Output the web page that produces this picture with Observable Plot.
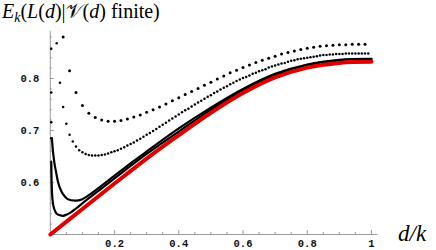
<!DOCTYPE html>
<html><head><meta charset="utf-8">
<script src="https://cdn.jsdelivr.net/npm/d3@7"></script>
<script src="https://cdn.jsdelivr.net/npm/@observablehq/plot@0.6"></script>
<style>html,body{margin:0;padding:0;background:#fff} svg{display:block}</style>
</head><body><div id="chart"></div>
<script>
// ---- data ----
// k = 50 series (sparse dots), d/k = 2/50 ... 49/50
const sparseValues = [0.880,0.815,0.773,0.748,0.733,0.725,0.720,0.718,0.718,0.719,0.722,0.726,0.730,0.735,0.740,0.745,0.751,0.757,0.763,0.769,0.775,0.781,0.787,0.793,0.799,0.805,0.811,0.816,0.821,0.826,0.831,0.835,0.839,0.843,0.847,0.850,0.853,0.856,0.858,0.860,0.862,0.863,0.864,0.865,0.865,0.866,0.866,0.866];
// k = 100 series (dense dots), d/k = 2/100 ... 99/100
const middleValues = [0.868,0.792,0.745,0.713,0.692,0.679,0.669,0.662,0.658,0.655,0.653,0.652,0.652,0.652,0.653,0.654,0.656,0.658,0.660,0.662,0.665,0.668,0.671,0.674,0.677,0.681,0.684,0.688,0.692,0.695,0.699,0.703,0.707,0.711,0.715,0.719,0.723,0.727,0.731,0.735,0.739,0.742,0.746,0.750,0.754,0.757,0.761,0.765,0.768,0.772,0.775,0.779,0.782,0.785,0.789,0.792,0.795,0.798,0.801,0.803,0.806,0.809,0.811,0.814,0.816,0.818,0.821,0.823,0.825,0.827,0.829,0.830,0.832,0.834,0.835,0.837,0.838,0.839,0.840,0.841,0.842,0.843,0.844,0.845,0.845,0.846,0.846,0.847,0.847,0.847,0.848,0.848,0.848,0.848,0.848,0.848,0.848,0.848];
// solid black curve with higher minimum
const upperD = [0.005,0.008,0.011,0.014,0.018,0.023,0.029,0.039,0.054,0.078,0.1,0.13,0.16,0.2,0.25,0.31,0.4,0.5,0.6,0.7,0.8,0.9,1];
const upperV = [0.685,0.662,0.646,0.633,0.620,0.604,0.591,0.578,0.568,0.565,0.568,0.580,0.594,0.613,0.637,0.664,0.704,0.744,0.780,0.809,0.827,0.836,0.838];
// solid black curve with lower minimum
const lowerD = [0.003,0.004,0.005,0.007,0.01,0.015,0.02,0.03,0.04,0.05,0.065,0.08,0.1,0.15,0.2,0.3,0.4,0.5,0.6,0.7,0.8,0.9,1];
const lowerV = [0.640,0.605,0.585,0.566,0.554,0.545,0.540,0.537,0.536,0.538,0.543,0.550,0.560,0.584,0.608,0.655,0.698,0.740,0.778,0.807,0.826,0.835,0.837];
const leadD = [0.003,0.003,0.003,0.003];
const leadV = [0.857,0.773,0.716,0.685];
// red limit curve
const redD = [0,0.1,0.2,0.3,0.4,0.5,0.6,0.7,0.8,0.9,1];
const redV = [0.5,0.549,0.598,0.646,0.691,0.734,0.772,0.802,0.821,0.830,0.832];
// axes
const xTicks = [0.2,0.4,0.6,0.8,1];
const xMinor = [0.05,0.1,0.15,0.25,0.3,0.35,0.45,0.5,0.55,0.65,0.7,0.75,0.85,0.9,0.95];
const yTicks = [0.6,0.7,0.8];
const yMinor = [0.52,0.54,0.56,0.58,0.62,0.64,0.66,0.68,0.72,0.74,0.76,0.78,0.82,0.84,0.86,0.88];
const xLabel = "d/k";

// ---- tables ----
const sparse = sparseValues.map((v,i)=>({d:(i+2)/50, v}));
const middle = middleValues.map((v,i)=>({d:(i+2)/100, v}));
const upper = upperD.map((d,i)=>({d, v:upperV[i]}));
const lower = lowerD.map((d,i)=>({d, v:lowerV[i]}));
const lead = leadD.map((d,i)=>({d, v:leadV[i]}));
const red = redD.map((d,i)=>({d, v:redV[i]}));

const W = 436, H = 250;
const mL = 49.8, mR = 58.6, mT = 31.2, mB = 16;
const frameW = W - mL - mR, frameH = H - mT - mB;
const axisColor = "#9a9a9a";
const tickFont = {fontFamily: "'Liberation Mono', 'DejaVu Sans Mono', monospace", fontWeight: "bold", fontSize: 10.5, fill: "#111"};

const plot = Plot.plot({
  width: W, height: H,
  marginLeft: mL, marginRight: mR, marginTop: mT, marginBottom: mB,
  x: {domain: [0, 1.02], label: null},
  y: {domain: [0.5, 0.89], label: null},
  style: {background: "#fff"},
  marks: [
    Plot.ruleX([0], {stroke: axisColor}),
    Plot.ruleY([0.5], {stroke: axisColor}),
    Plot.ruleX(xMinor, {stroke: axisColor, insetTop: frameH - 2}),
    Plot.ruleX(xTicks, {stroke: axisColor, insetTop: frameH - 4}),
    Plot.ruleY(yMinor, {stroke: axisColor, insetRight: frameW - 2}),
    Plot.ruleY(yTicks, {stroke: axisColor, insetRight: frameW - 4}),
    Plot.axisX({ticks: xTicks, tickSize: 0, tickPadding: 5, label: null, tickFormat: d => d === 1 ? "1" : d.toFixed(1), ...tickFont}),
    Plot.axisY({ticks: yTicks, tickSize: 0, tickPadding: 11, label: null, tickFormat: d => d.toFixed(1), ...tickFont}),
    Plot.lineY(upper, {x: "d", y: "v", stroke: "#000", strokeWidth: 2.2, curve: "catmull-rom"}),
    Plot.lineY(lower, {x: "d", y: "v", stroke: "#000", strokeWidth: 2.2, curve: "catmull-rom"}),
    Plot.dot(lead, {x: "d", y: "v", r: 1.3, fill: "#000"}),
    Plot.lineY(red, {x: "d", y: "v", stroke: "#e00000", strokeWidth: 4, curve: "catmull-rom"}),
    Plot.dot(middle, {x: "d", y: "v", r: 1.25, fill: "#000"}),
    Plot.dot(sparse, {x: "d", y: "v", r: 1.5, fill: "#000"})
  ]
});
document.getElementById("chart").appendChild(plot);

// title and x label as math-styled text
const svg = d3.select(plot);
const serif = "'Liberation Serif', 'DejaVu Serif', serif";
const t = svg.append("text").attr("x", 2).attr("y", 18).attr("text-anchor", "start")
  .attr("font-family", serif).attr("font-size", 20).attr("fill", "#000");
const parts = [
  ["E", "italic", 0, null],
  ["k", "italic", 4, 14],
  ["(", "normal", -4, null],
  ["L", "italic", 0, null],
  ["(", "normal", 0, null],
  ["d", "italic", 0, null],
  [")|", "normal", 0, null],
  ["𝒱", "normal", 0, null],
  ["(", "normal", 0, null],
  ["d", "italic", 0, null],
  [") finite)", "normal", 0, null]
];
for (const [txt, style, dy, size] of parts) {
  const s = t.append("tspan").attr("font-style", style).attr("dy", dy).text(txt);
  if (size) s.attr("font-size", size);
}
svg.append("text").attr("x", 398).attr("y", 241).attr("text-anchor", "start").attr("font-family", serif)
  .attr("font-style", "italic").attr("font-size", 23).attr("fill", "#000").text(xLabel);
</script>
</body></html>
